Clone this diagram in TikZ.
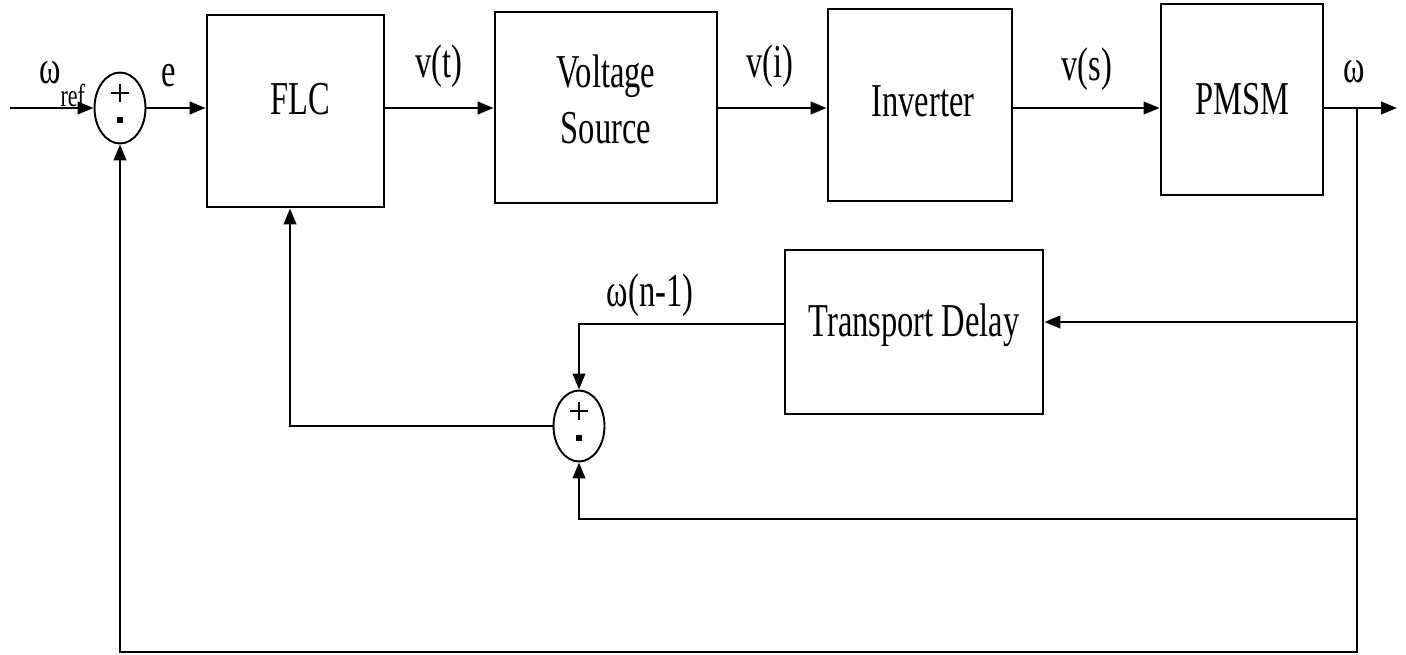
\documentclass[tikz,border=0pt]{standalone}
\usepackage{fontspec}
\setmainfont{Liberation Serif}
\usepackage{graphicx}
\usetikzlibrary{shapes.geometric,arrows.meta}
\newcommand{\stt}[1]{\scalebox{1}[1.45]{#1}}
\begin{document}
\begin{tikzpicture}[x=0.02cm,y=-0.02cm,
  blk/.style={draw,line width=1.6pt,inner sep=0pt},
  sumj/.style={draw,ellipse,line width=1.1pt,minimum width=1.02cm,minimum height=1.42cm,inner sep=0pt},
  conn/.style={line width=1.4pt},
  arr/.style={conn,-{Triangle[length=0.32cm,width=0.25cm]}},
  pm/.style={line width=1pt},
  mn/.style={line width=3.2pt},
  lbl/.style={font=\fontsize{18.5}{22}\selectfont,inner sep=0pt},
  every label/.style={font=\fontsize{18.5}{22}\selectfont,inner sep=0pt}]
\useasboundingbox (0,0) rectangle (1406,655);

% blocks
\node[blk,minimum width=3.54cm,minimum height=3.84cm,label={[xshift=0.09cm,yshift=0.24cm]center:\stt{FLC}}] (flc) at (295.5,111) {};
\node[blk,minimum width=4.44cm,minimum height=3.82cm,label={[yshift=0.07cm]center:\stt{\begin{tabular}{@{}c@{}}Voltage\\Source\end{tabular}}}] (vs) at (606,107.5) {};
\node[blk,minimum width=3.68cm,minimum height=3.84cm,label={[xshift=0.06cm,yshift=0.08cm]center:\stt{Inverter}}] (inv) at (920,105) {};
\node[blk,minimum width=3.24cm,minimum height=3.82cm,label={center:\stt{PMSM}}] (pmsm) at (1242,99.5) {};
\node[blk,minimum width=5.16cm,minimum height=3.28cm,label={[yshift=0.14cm]center:\stt{Transport Delay}}] (td) at (914,332) {};

% summing junctions
\node[sumj] (s1) at (120,108) {};
\node[sumj] (s2) at (579,426) {};
\foreach \s in {s1,s2}{
  \draw[pm] ([yshift=0.3cm]\s.center) ++(-0.18cm,0) -- ++(0.36cm,0);
  \draw[pm] ([yshift=0.3cm]\s.center) ++(0,-0.18cm) -- ++(0,0.36cm);
  \draw[mn] ([xshift=-0.065cm,yshift=-0.24cm]\s.center) -- ++(0.13cm,0);
}

% coordinates
\coordinate (in) at (10,108);
\coordinate (br) at (1357,108);
\coordinate (out) at (1397,108);
\coordinate (c1) at (1357,652);
\coordinate (t1) at (1357,322);
\coordinate (t3) at (1357,519);

% forward path
\draw[arr] (in) -- (s1.west);
\draw[arr] (s1.east) -- (s1.east -| flc.west);
\draw[arr] (flc.east |- s1) -- (vs.west |- s1);
\draw[arr] (vs.east |- s1) -- (inv.west |- s1);
\draw[arr] (inv.east |- s1) -- (pmsm.west |- s1);
\draw[arr] (pmsm.east |- s1) -- (out);

% feedback paths
\draw[arr] (br) -- (c1) -| (s1.south);
\draw[arr] (t1) -- (t1 -| td.east);
\draw[arr] ([yshift=0.16cm]td.west) -| (s2.north);
\draw[arr] (t3) -| (s2.south);
\draw[arr] (s2.west) -| ([xshift=-0.11cm]flc.south);

% labels
\node[lbl] (lref) at (62,84) {\stt{ω\raisebox{-9pt}{\fontsize{12.5}{13}\selectfont ref}}};
\node[lbl] (le) at (169,76) {\stt{e}};
\node[lbl] (lvt) at (439,66) {\stt{v(t)}};
\node[lbl] (lvi) at (770,66) {\stt{v(i)}};
\node[lbl] (lvs) at (1087,69) {\stt{v(s)}};
\node[lbl] (lw) at (1354,72) {\stt{ω}};
\node[lbl] (lwn) at (650,295) {\stt{ω(n-1)}};
\end{tikzpicture}
\end{document}
